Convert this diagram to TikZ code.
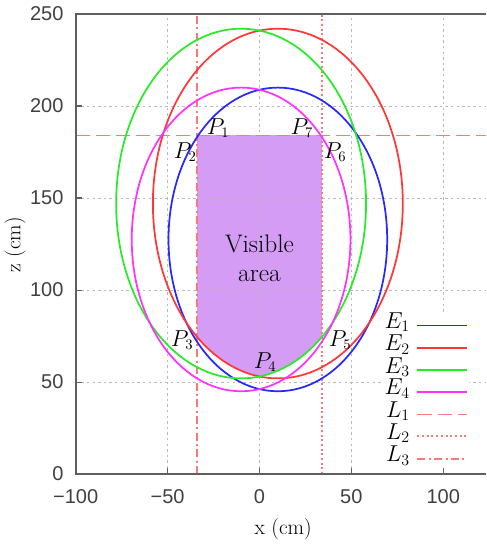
\documentclass[tikz,border=0pt]{standalone}
\usepackage{fontspec}
\newfontfamily\ticksf{Liberation Sans}
\definecolor{eblue}{RGB}{40,40,255}
\definecolor{ered}{RGB}{255,55,55}
\definecolor{egreen}{RGB}{40,235,40}
\definecolor{emagenta}{RGB}{255,50,255}
\definecolor{lred}{RGB}{255,120,120}
\definecolor{visfill}{RGB}{212,156,245}
\definecolor{framegray}{RGB}{95,95,95}

\begin{document}
\begin{tikzpicture}[x=1.378pt,y=1.38pt,
    curve/.style={line width=1.3pt},
    gridline/.style={gray!55,line width=0.6pt,dash pattern=on 1.8pt off 2.4pt},
    lineone/.style={draw=lred,line width=1.4pt,dash pattern=on 11pt off 4pt},
    linetwo/.style={draw=lred,line width=1.3pt,dash pattern=on 1.5pt off 2pt},
    linethree/.style={draw=lred,line width=1.3pt,dash pattern=on 6pt off 2.5pt on 1.5pt off 2.5pt},
    ticklab/.style={font=\ticksf\fontsize{15}{18}\selectfont,text=black!75,inner sep=0pt},
    ptlab/.style={font=\fontsize{16}{19}\selectfont,inner sep=0pt},
    leglab/.style={font=\fontsize{17}{20}\selectfont,inner sep=0pt,anchor=mid east}]
    \useasboundingbox (-141.2,-38) rectangle (123.4,257.6);

    % visible area = rectangle cut by the four ellipses
    \begin{scope}
        \clip (-34,0) rectangle (34,184);
        \clip (10,127.5) ellipse [x radius=59.5,y radius=82.5];
        \clip (10,147) ellipse [x radius=68,y radius=95];
        \clip (-10,147) ellipse [x radius=68,y radius=95];
        \clip (-10,127.5) ellipse [x radius=59.5,y radius=82.5];
        \fill[visfill] (-34,0) rectangle (34,184);
    \end{scope}

    \foreach \gx in {-50,0,50,100} \draw[gridline] (\gx,0) -- (\gx,250);
    \foreach \gz in {50,100,150,200} \draw[gridline] (-100,\gz) -- (123.4,\gz);
    \fill[white] (66,2) rectangle (114,87);

    \draw[lineone] (-100,184) -- (123.4,184);
    \draw[linetwo] (34,0) -- (34,250);
    \draw[linethree] (-34,0) -- (-34,250);

    \draw[curve,eblue] (10,127.5) ellipse [x radius=59.5,y radius=82.5];
    \draw[curve,ered] (10,147) ellipse [x radius=68,y radius=95];
    \draw[curve,egreen] (-10,147) ellipse [x radius=68,y radius=95];
    \draw[curve,emagenta] (-10,127.5) ellipse [x radius=59.5,y radius=82.5];

    % frame and ticks
    \draw[framegray,line width=1.2pt] (123.4,250) -- (-100,250) -- (-100,0) -- (123.4,0);
    \foreach \gx in {-50,0,50,100} \draw[framegray,line width=0.8pt] (\gx,0) -- (\gx,3.5);
    \foreach \gz in {50,100,150,200} \draw[framegray,line width=0.8pt] (-100,\gz) -- (-96.5,\gz);
    \foreach \gz in {0,50,100,150,200,250} \node[ticklab,anchor=east] (zt\gz) at (-106.5,\gz) {\gz};
    \foreach \gx/\gl/\gn in {-100/−100/a,-50/−50/b,0/0/c,50/50/d,100/100/e}
        \node[ticklab] (xt\gn) at (\gx,-12) {\gl};
    \node[font=\fontsize{16}{19}\selectfont] (xlab) at (12.9,-29.7) {x (cm)};
    \node[font=\fontsize{16}{19}\selectfont,rotate=90] (zlab) at (-133,124.5) {z (cm)};

    \node[align=center,font=\fontsize{19}{22}\selectfont] (vis) at (0,117.4) {Visible\\area};
    \node[ptlab] (p1) at (-22.5,188) {$P_1$};
    \node[ptlab] (p2) at (-40.4,175) {$P_2$};
    \node[ptlab] (p3) at (-42.1,72.8) {$P_3$};
    \node[ptlab] (p4) at (3.1,60.9) {$P_4$};
    \node[ptlab] (p5) at (43.9,72.8) {$P_5$};
    \node[ptlab] (p6) at (41.2,175) {$P_6$};
    \node[ptlab] (p7) at (23.1,188) {$P_7$};

    % legend
    \node[leglab] (legE1) at (82,80.8) {$E_1$};
    \node[leglab] (legE2) at (82,68.6) {$E_2$};
    \node[leglab] (legE3) at (82,56.4) {$E_3$};
    \node[leglab] (legE4) at (82,44.6) {$E_4$};
    \node[leglab] (legL1) at (82,32.4) {$L_1$};
    \node[leglab] (legL2) at (82,20.5) {$L_2$};
    \node[leglab] (legL3) at (82,8.3) {$L_3$};
    \draw[curve,eblue] ([xshift=5.5pt]legE1.mid east) -- ++(27,0);
    \draw[curve,ered] ([xshift=5.5pt]legE2.mid east) -- ++(27,0);
    \draw[curve,egreen] ([xshift=5.5pt]legE3.mid east) -- ++(27,0);
    \draw[curve,emagenta] ([xshift=5.5pt]legE4.mid east) -- ++(27,0);
    \draw[lineone] ([xshift=5.5pt]legL1.mid east) -- ++(27,0);
    \draw[linetwo] ([xshift=5.5pt]legL2.mid east) -- ++(27,0);
    \draw[linethree] ([xshift=5.5pt]legL3.mid east) -- ++(27,0);
\end{tikzpicture}
\end{document}
